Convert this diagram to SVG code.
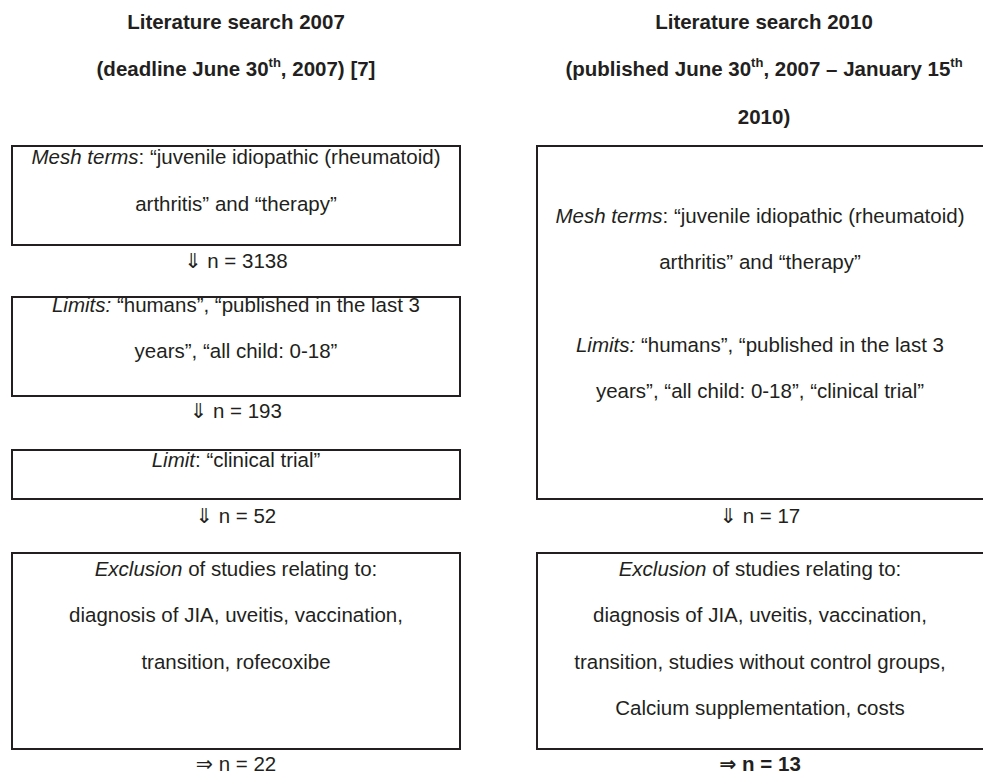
<svg xmlns="http://www.w3.org/2000/svg" width="983" height="774" viewBox="0 0 983 774">
<style>
text{font-family:"Liberation Sans",Arial,"DejaVu Sans",sans-serif;font-size:20.5px;fill:#231f20;text-anchor:middle}
.b{font-weight:bold}
.i{font-style:italic}
.sup{font-size:13px}
.box{fill:none;stroke:#231f20;stroke-width:2}
</style>
<rect width="983" height="774" fill="#fff"/>
<g id="header-left">
<text class="b" x="236" y="29">Literature search 2007</text>
<text class="b" x="236" y="76">(deadline June 30<tspan class="sup" dy="-9">th</tspan><tspan dy="9">, 2007) [7]</tspan></text>
</g>
<g id="header-right">
<text class="b" x="764" y="29">Literature search 2010</text>
<text class="b" x="764" y="76">(published June 30<tspan class="sup" dy="-9">th</tspan><tspan dy="9">, 2007 – January 15</tspan><tspan class="sup" dy="-9">th</tspan></text>
<text class="b" x="764" y="124">2010)</text>
</g>
<g id="box-mesh-2007">
<rect class="box" x="12" y="146" width="448" height="99"/>
<text x="236" y="164"><tspan class="i">Mesh terms</tspan>: “juvenile idiopathic (rheumatoid)</text>
<text x="236" y="211">arthritis” and “therapy”</text>
</g>
<g id="box-limits-2007">
<rect class="box" x="12" y="297" width="448" height="99"/>
<text x="236" y="312"><tspan class="i">Limits:</tspan> “humans”, “published in the last 3</text>
<text x="236" y="358">years”, “all child: 0-18”</text>
</g>
<g id="box-limit-2007">
<rect class="box" x="12" y="450" width="448" height="49"/>
<text x="236" y="467"><tspan class="i">Limit</tspan>: “clinical trial”</text>
</g>
<g id="box-exclusion-2007">
<rect class="box" x="12" y="553" width="448" height="196"/>
<text x="236" y="576"><tspan class="i">Exclusion</tspan> of studies relating to:</text>
<text x="236" y="622">diagnosis of JIA, uveitis, vaccination,</text>
<text x="236" y="669">transition, rofecoxibe</text>
</g>
<g id="box-search-2010">
<rect class="box" x="537" y="146" width="460" height="353"/>
<text x="760" y="223"><tspan class="i">Mesh terms</tspan>: “juvenile idiopathic (rheumatoid)</text>
<text x="760" y="269">arthritis” and “therapy”</text>
<text x="760" y="352"><tspan class="i">Limits:</tspan> “humans”, “published in the last 3</text>
<text x="760" y="398">years”, “all child: 0-18”, “clinical trial”</text>
</g>
<g id="box-exclusion-2010">
<rect class="box" x="537" y="553" width="460" height="196"/>
<text x="760" y="576"><tspan class="i">Exclusion</tspan> of studies relating to:</text>
<text x="760" y="622">diagnosis of JIA, uveitis, vaccination,</text>
<text x="760" y="669">transition, studies without control groups,</text>
<text x="760" y="715">Calcium supplementation, costs</text>
</g>
<g id="connectors">
<text x="236" y="268">⇓ n = 3138</text>
<text x="236" y="418">⇓ n = 193</text>
<text x="236" y="523">⇓ n = 52</text>
<text x="236" y="771">⇒ n = 22</text>
<text x="760" y="523">⇓ n = 17</text>
<text class="b" x="760" y="771">⇒ n = 13</text>
</g>
</svg>
